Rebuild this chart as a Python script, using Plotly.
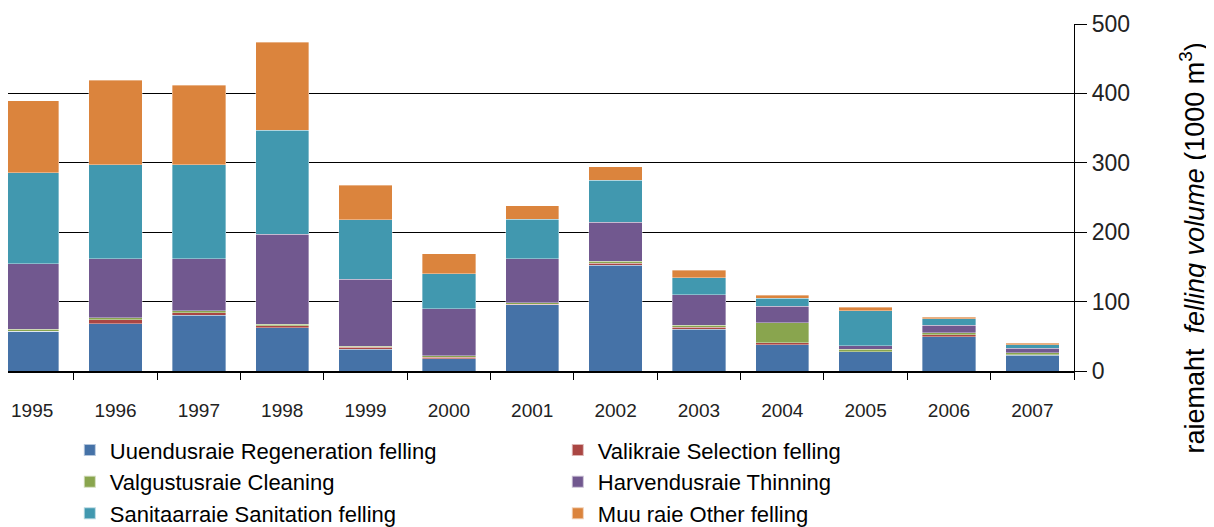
import plotly.graph_objects as go

years = ["1995", "1996", "1997", "1998", "1999", "2000", "2001",
         "2002", "2003", "2004", "2005", "2006", "2007"]

regeneration = [57, 68, 80, 62, 31, 18, 95.5, 152.5, 60.5, 38, 27.5, 49.5, 23]
selection = [0.5, 5.5, 4, 3.5, 3, 2, 0.5, 2.5, 2.5, 3, 0.5, 2.5, 0.5]
cleaning = [3, 3, 2.5, 2, 2, 2, 2, 3, 3, 28.5, 3.5, 3.3, 2.5]
thinning = [94, 85.5, 75.5, 129.5, 96, 68, 64, 56, 44, 24, 5, 10.5, 6.7]
sanitation = [131, 135, 135, 150, 86, 50, 57, 61, 24.5, 11, 50, 9.5, 5.3]
other = [104, 122, 115, 127, 50, 29, 19, 19, 11, 4.5, 5.5, 2, 2.3]

series = [
    ("Uuendusraie Regeneration felling", regeneration, "#4572A7"),
    ("Valikraie Selection felling", selection, "#AA4643"),
    ("Valgustusraie Cleaning", cleaning, "#89A54E"),
    ("Harvendusraie Thinning", thinning, "#71588F"),
    ("Sanitaarraie Sanitation felling", sanitation, "#4198AF"),
    ("Muu raie Other felling", other, "#DB843D"),
]

fig = go.Figure()
for name, vals, color in series:
    fig.add_trace(go.Bar(
        x=years, y=vals, name=name,
        marker=dict(color=color, line=dict(color="rgba(255,255,255,0.6)", width=0.6)),
    ))

FONT = "Liberation Sans, Arial, sans-serif"
fig.update_layout(
    barmode="stack",
    bargap=0.36,
    width=1214, height=527,
    margin=dict(l=0, r=148, t=16, b=164, autoexpand=False),
    plot_bgcolor="white",
    paper_bgcolor="white",
    font=dict(family=FONT, color="#000000"),
    showlegend=True,
    legend=dict(
        orientation="h",
        x=0.058, y=-0.168, xanchor="left", yanchor="top",
        entrywidth=443, entrywidthmode="pixels",
        font=dict(size=22, family=FONT, color="#000000"),
        itemsizing="constant",
        tracegroupgap=0,
        traceorder="normal",
    ),
    xaxis=dict(
        type="category",
        range=[-0.29, 12.5],
        showline=True, linecolor="#000000", linewidth=1.5,
        ticks="outside", tickson="boundaries", ticklen=7, tickcolor="#000000",
        ticklabelstandoff=21,
        tickfont=dict(size=19, color="#222222", family=FONT),
        showgrid=False,
    ),
    yaxis=dict(
        side="right",
        range=[0, 500],
        tickvals=[0, 100, 200, 300, 400, 500],
        showline=True, linecolor="#000000", linewidth=1.2,
        ticks="outside", ticklen=12, tickcolor="#000000",
        tickfont=dict(size=23, color="#222222", family=FONT),
        showgrid=True, gridcolor="#000000", gridwidth=1.2,
        zeroline=False,
    ),
)

fig.add_annotation(
    text="raiemaht  <i>felling volume</i> (1000 m<sup>3</sup>)",
    xref="paper", yref="paper",
    x=1.0, xshift=137, y=0.5, yshift=-51,
    textangle=-90, showarrow=False,
    font=dict(size=27, family=FONT, color="#000000"),
)

fig.write_html("out.html")
